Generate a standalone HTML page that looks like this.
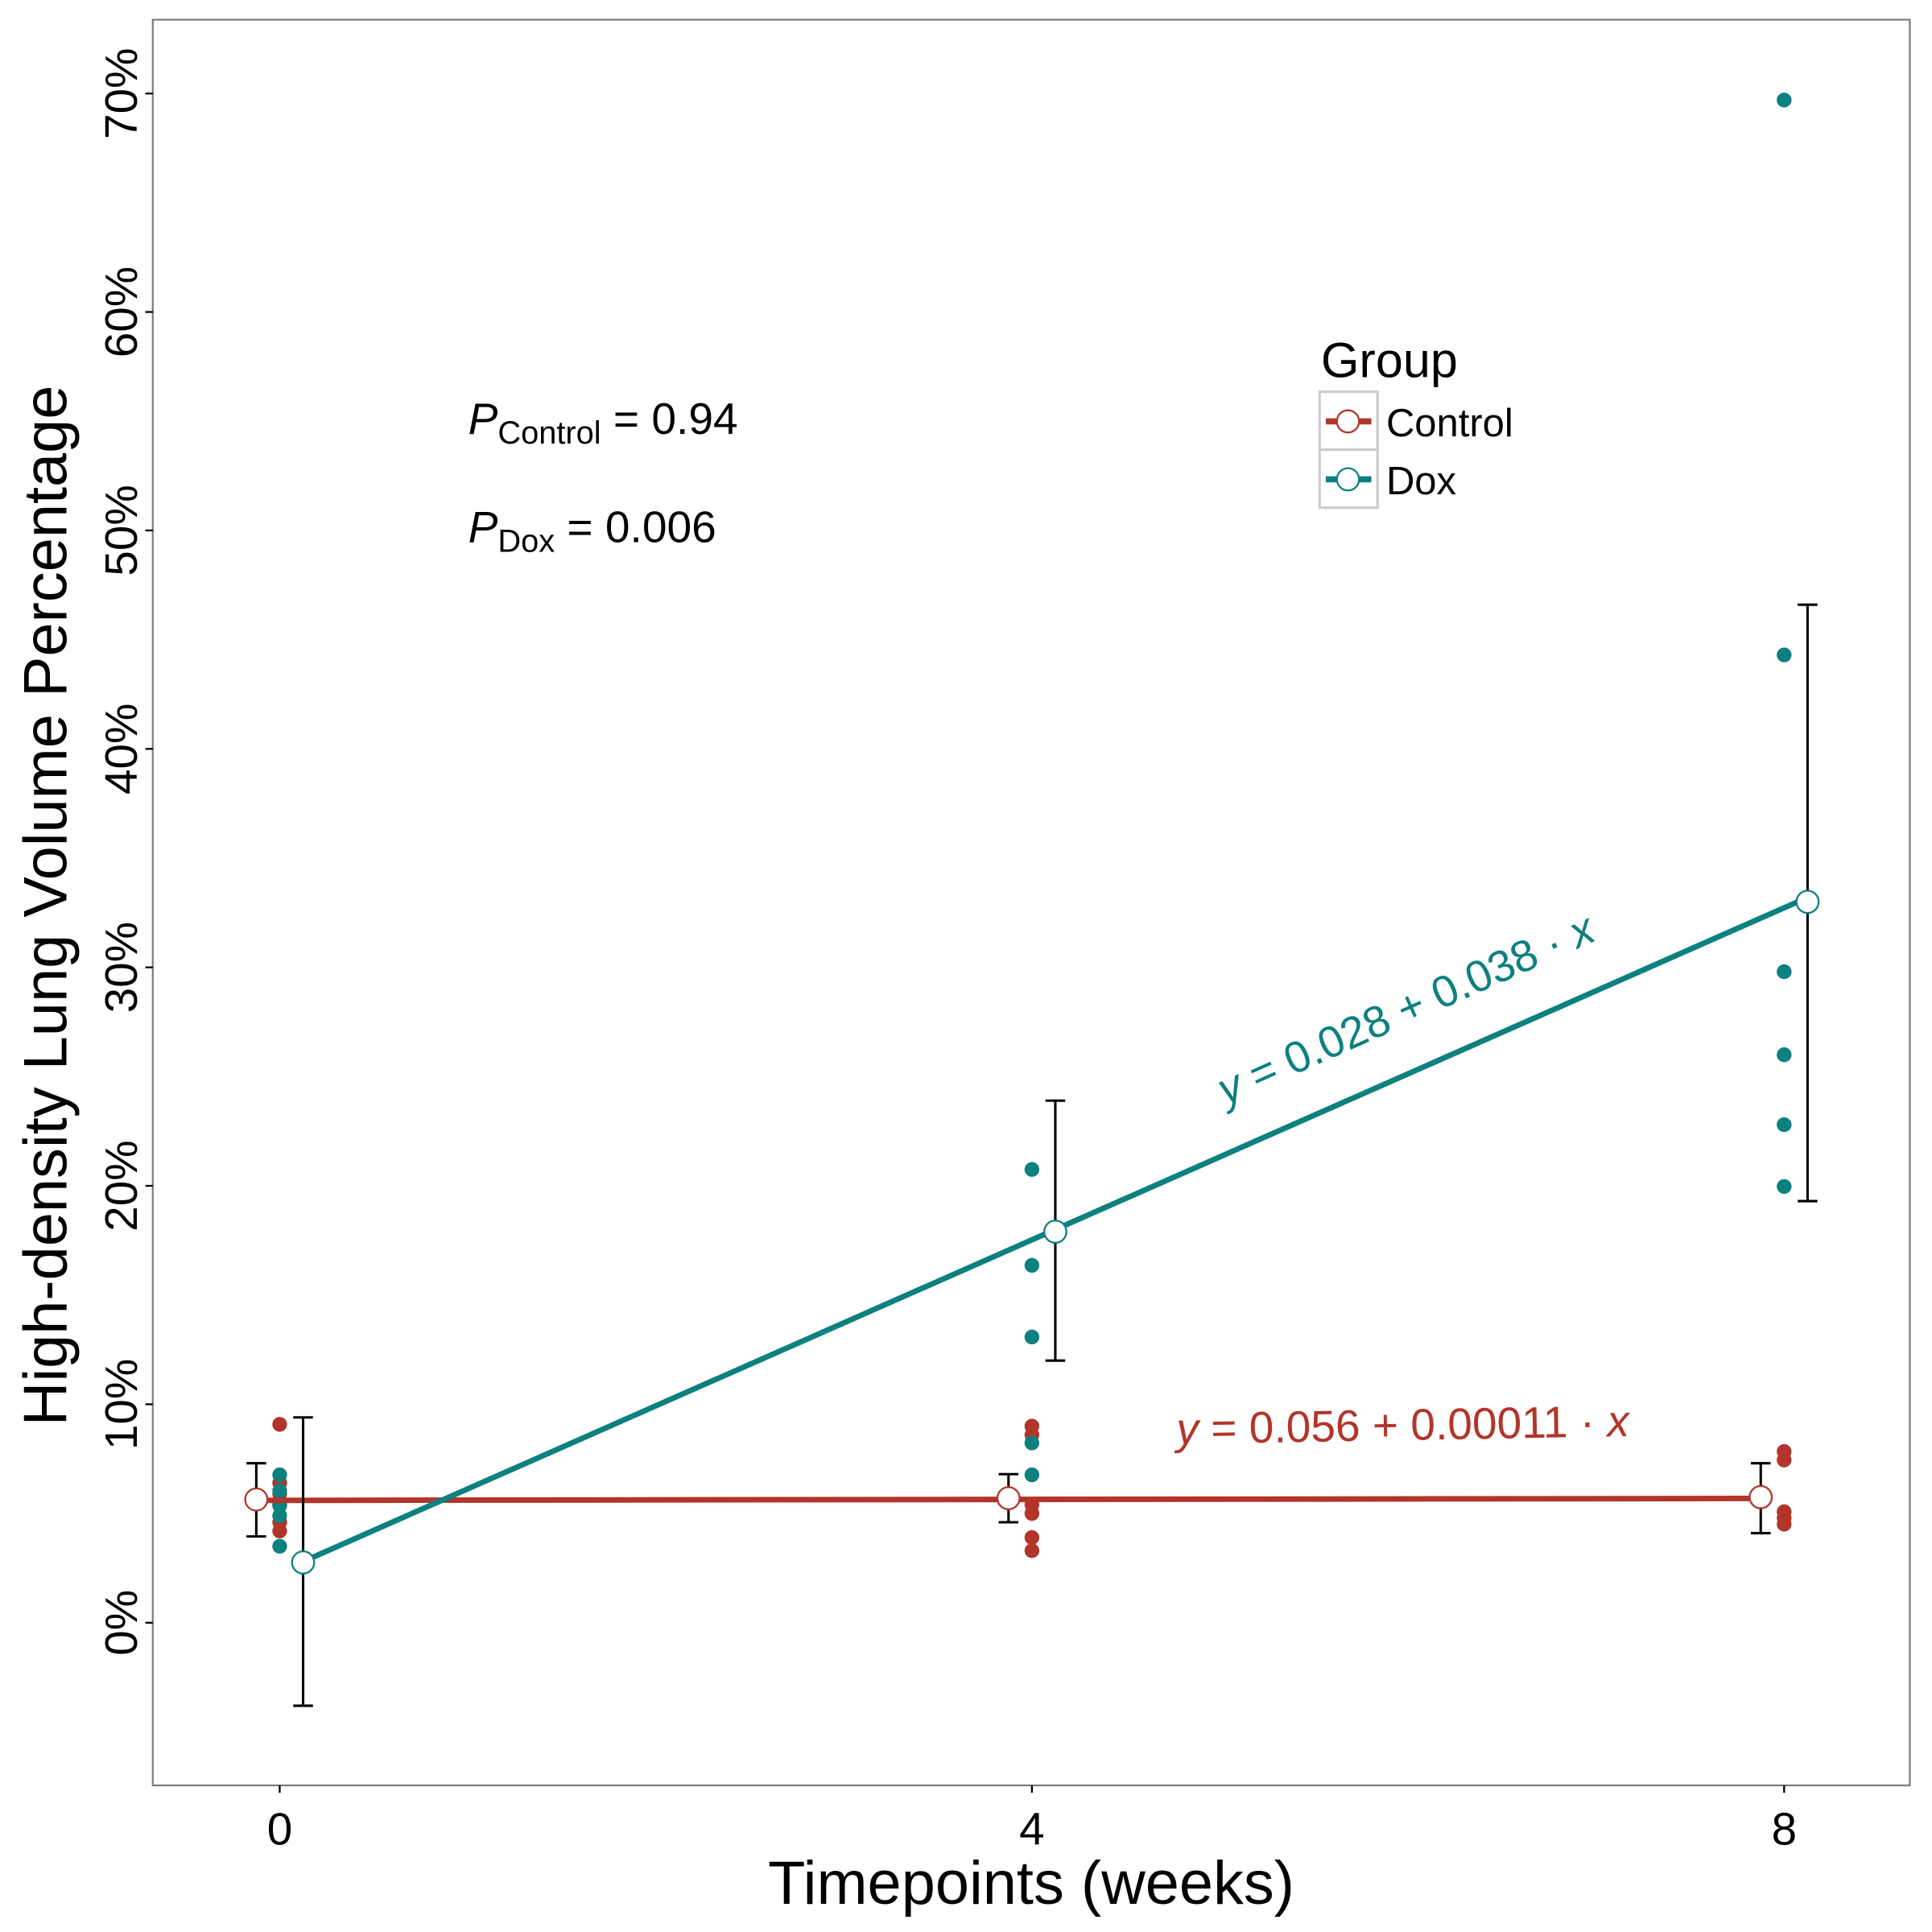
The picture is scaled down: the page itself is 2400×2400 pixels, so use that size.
<!DOCTYPE html>
<html><head><meta charset="utf-8"><style>
html,body{margin:0;padding:0;background:#fff;}
svg{display:block;font-family:"Liberation Sans",Arial,sans-serif;}
</style></head><body>
<svg id="chart" width="2400" height="2400" viewBox="0 0 1568 1568" xmlns="http://www.w3.org/2000/svg">
<rect x="124" y="16" width="1426" height="1433" fill="#fff" stroke="#7f7f7f" stroke-width="1.5"/>
<g id="marks"></g>
<g id="axes"></g>
<text x="837" y="1545" font-size="49.5" text-anchor="middle">Timepoints (weeks)</text>
<text transform="translate(54,735) rotate(-90)" font-size="49.5" text-anchor="middle">High-density Lung Volume Percentage</text>
<text x="380" y="352" font-size="36"><tspan font-style="italic">P</tspan><tspan font-size="26" dy="8">Control</tspan><tspan dy="-8"> = 0.94</tspan></text>
<text x="380" y="440" font-size="36"><tspan font-style="italic">P</tspan><tspan font-size="26" dy="8">Dox</tspan><tspan dy="-8"> = 0.006</tspan></text>
<text transform="translate(995,897) rotate(-24)" font-size="36" fill="#0d8080"><tspan font-style="italic">y</tspan> = 0.028 + 0.038 · <tspan font-style="italic">x</tspan></text>
<text transform="translate(955,1172) rotate(-1)" font-size="36" fill="#b2352a"><tspan font-style="italic">y</tspan> = 0.056 + 0.00011 · <tspan font-style="italic">x</tspan></text>
<g>
<text x="1072" y="306" font-size="40">Group</text>
<rect x="1071" y="318" width="47" height="47" fill="#fff" stroke="#cccccc" stroke-width="2"/>
<rect x="1071" y="365" width="47" height="47" fill="#fff" stroke="#cccccc" stroke-width="2"/>
<line x1="1076" y1="342" x2="1113" y2="342" stroke="#b2352a" stroke-width="5"/>
<circle cx="1094" cy="342" r="9" fill="#fff" stroke="#b2352a" stroke-width="1.5"/>
<line x1="1076" y1="389" x2="1113" y2="389" stroke="#0d8080" stroke-width="5"/>
<circle cx="1094" cy="389" r="9" fill="#fff" stroke="#0d8080" stroke-width="1.5"/>
<text x="1125" y="354" font-size="32">Control</text>
<text x="1125" y="401" font-size="32">Dox</text>
</g>
</svg>
<script>
const weeks = [0, 4, 8];
const yTicks = [0, 10, 20, 30, 40, 50, 60, 70];
const yTickLabels = ["0%", "10%", "20%", "30%", "40%", "50%", "60%", "70%"];
const controlRaw = [[9.08, 6.4, 5.9, 5.4, 4.6, 4.2], [9.0, 8.6, 5.4, 5.0, 3.9, 3.3], [7.84, 7.45, 5.08, 4.79, 4.51]];
const doxRaw = [[6.77, 6.03, 5.36, 4.9, 3.5], [20.75, 16.36, 13.08, 8.23, 6.77], [69.7, 44.3, 29.8, 26.0, 22.8, 19.97]];
const controlMean = [5.64, 5.7, 5.75];
const controlLo = [3.95, 4.6, 4.1];
const controlHi = [7.3, 6.8, 7.3];
const doxMean = [2.76, 17.9, 33.0];
const doxLo = [-3.8, 12.0, 19.3];
const doxHi = [9.4, 23.9, 46.6];
const controlFit = [5.6, 0.011];
const doxFit = [2.8, 3.8];

const NS = "http://www.w3.org/2000/svg";
function X(w){ return 227 + w * (1448 - 227) / 8; }
function Y(v){ return 1317 - v * 17.73; }
function mk(parent, tag, attrs){ const e = document.createElementNS(NS, tag); for (const k in attrs) e.setAttribute(k, attrs[k]); parent.appendChild(e); return e; }
const marks = document.getElementById('marks');
const axes = document.getElementById('axes');
const RED = "#b2352a", TEAL = "#0d8080";

weeks.forEach(w => {
  const t = mk(axes, 'line', {x1: X(w), x2: X(w), y1: 1449, y2: 1455, stroke: '#000', 'stroke-width': 1.5});
  
  
  const l = mk(axes, 'text', {x: X(w), y: 1497, 'font-size': 37, 'text-anchor': 'middle'});
  l.textContent = String(w);
  
  
});
yTicks.forEach((v, i) => {
  const t = mk(axes, 'line', {x1: 118, x2: 124, y1: Y(v), y2: Y(v), stroke: '#000', 'stroke-width': 1.5});
  
  
  const l = mk(axes, 'text', {transform: `translate(111,${Y(v)}) rotate(-90)`, 'font-size': 37, 'text-anchor': 'middle'});
  l.textContent = yTickLabels[i];
  
  
});

function drawRaw(raw, color, name){
  raw.forEach((arr, i) => arr.forEach(v => {
    const c = mk(marks, 'circle', {cx: X(weeks[i]), cy: Y(v), r: 6, fill: color});
    
    
  }));
}
drawRaw(controlRaw, RED, 'control-point');
drawRaw(doxRaw, TEAL, 'dox-point');

function drawGroup(mean, lo, hi, fit, dodge, color, name){
  const w0 = weeks[0], w1 = weeks[weeks.length - 1];
  const ln = mk(marks, 'line', {x1: X(w0) + dodge, y1: Y(fit[0] + fit[1] * w0), x2: X(w1) + dodge, y2: Y(fit[0] + fit[1] * w1), stroke: color, 'stroke-width': 4.5});
  
  
  mean.forEach((m, i) => {
    const x = X(weeks[i]) + dodge;
    const g = mk(marks, 'g', {});
    
    
    mk(g, 'line', {x1: x, x2: x, y1: Y(hi[i]), y2: Y(lo[i]), stroke: '#000', 'stroke-width': 2});
    mk(g, 'line', {x1: x - 8, x2: x + 8, y1: Y(hi[i]), y2: Y(hi[i]), stroke: '#000', 'stroke-width': 2});
    mk(g, 'line', {x1: x - 8, x2: x + 8, y1: Y(lo[i]), y2: Y(lo[i]), stroke: '#000', 'stroke-width': 2});
    const c = mk(marks, 'circle', {cx: x, cy: Y(m), r: 9, fill: '#fff', stroke: color, 'stroke-width': 1.5});
    
    
  });
}
drawGroup(controlMean, controlLo, controlHi, controlFit, -19, RED, 'control');
drawGroup(doxMean, doxLo, doxHi, doxFit, 19, TEAL, 'dox');
</script>
</body></html>
